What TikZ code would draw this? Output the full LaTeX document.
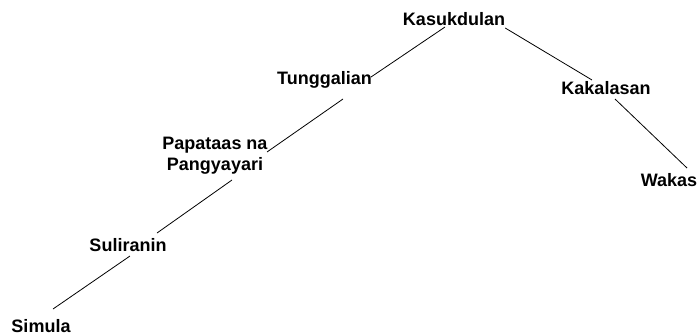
\documentclass[tikz,border=0pt]{standalone}
\usepackage{fontspec}
\setmainfont{Liberation Sans}
\begin{document}
\begin{tikzpicture}[x=1pt,y=1pt,
  lbl/.style={font=\fontsize{18}{21}\selectfont\bfseries, inner sep=0pt, anchor=base, align=center},
  conn/.style={line width=0.8pt, black}]
\useasboundingbox (0,0) rectangle (700,-335);
\node[lbl] (kas) at (454,-25.5) {Kasukdulan};
\node[lbl] (tun) at (324.5,-84) {Tunggalian};
\node[lbl] (pap) at (215,-170) {Papataas na\\Pangyayari};
\node[lbl] (sul) at (128,-251.7) {Suliranin};
\node[lbl] (sim) at (41,-332.5) {Simula};
\node[lbl] (kak) at (606,-94.3) {Kakalasan};
\node[lbl] (wak) at (669,-186.7) {Wakas};
\draw[conn] ([shift={(-9,-1.5)}]kas.base) -- ([shift={(-1,7)}]tun.base east);
\draw[conn] ([shift={(0,-2.5)}]kas.base east) -- ([shift={(-14,14.3)}]kak.base);
\draw[conn] ([shift={(9,-4.7)}]kak.base) -- ([shift={(18,18.7)}]wak.base);
\draw[conn] ([shift={(18.5,-15)}]tun.base) -- ([shift={(52,18)}]pap.base);
\draw[conn] ([shift={(17,-10)}]pap.base) -- ([shift={(29,18.7)}]sul.base);
\draw[conn] ([shift={(2,-4.3)}]sul.base) -- ([shift={(12,23.5)}]sim.base);
\end{tikzpicture}
\end{document}
